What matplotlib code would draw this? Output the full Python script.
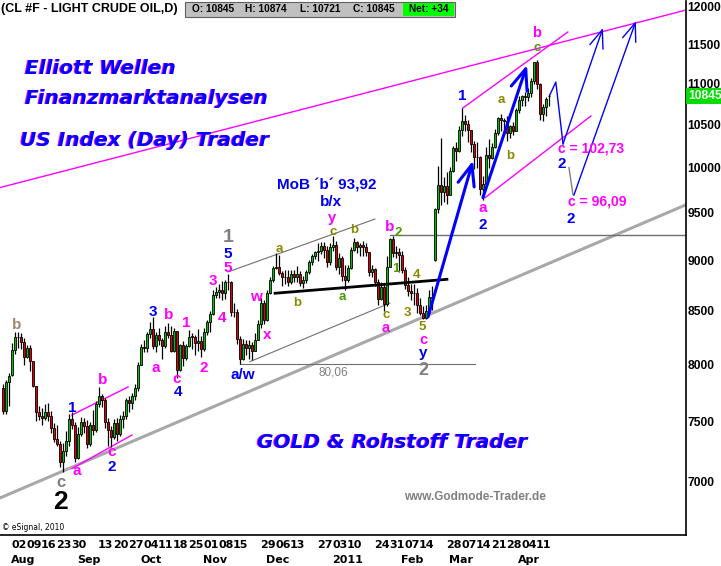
import numpy as np
import pandas as pd
import matplotlib
matplotlib.use('Agg')
import matplotlib.pyplot as plt
from matplotlib.patches import Rectangle
from matplotlib.transforms import blended_transform_factory, offset_copy

# ---- data (prices x100, as on the eSignal axis) ----
first_day = '2010-07-28'
last_day = '2011-04-15'
holidays = ['2010-09-06', '2010-11-25', '2010-12-24', '2011-01-17', '2011-02-21']

opens = [7790, 7590, 7836,
         7905, 8134, 8255, 8249, 8201, 8070, 8148, 8025, 7802, 7574,
         7539, 7524, 7577, 7542, 7443, 7346, 7310, 7163, 7252, 7336,
         7517, 7470, 7192, 7391, 7491, 7460, 7309, 7467, 7425, 7645,
         7719, 7680, 7494, 7420, 7366, 7486, 7390, 7520, 7540, 7680,
         7652, 7718, 7786, 7997, 8158, 8147, 8282, 8323, 8167, 8266,
         8221, 8167, 8301, 8269, 8125, 8308, 7949, 8177, 8056, 8169,
         8252, 8255, 8194, 8218, 8143, 8295, 8390, 8469, 8649, 8685,
         8706, 8672, 8781, 8781, 8488, 8486, 8234, 8044, 8185, 8151,
         8174, 8125, 8221, 8376, 8573, 8411, 8675, 8800, 8919, 8938,
         8869, 8828, 8837, 8779, 8861, 8828, 8862, 8770, 8802, 8881,
         8982, 9048, 9083, 9100, 9149, 9112, 8984, 9138, 9155, 8938,
         9030, 8838, 8803, 8925, 9111, 9186, 9140, 9154, 9138, 9086,
         8886, 8911, 8787, 8619, 8733, 8564, 8934, 9219, 9077, 9086,
         9054, 8903, 8748, 8694, 8671, 8673, 8558, 8481, 8432, 8499,
         8636, 9000, 9542, 9810, 9728, 9788, 9697, 9963, 10223, 10191,
         10442, 10544, 10502, 10438, 10270, 10116, 10119, 9760, 9820, 10142,
         10107, 10233, 10400, 10575, 10560, 10540, 10398, 10479, 10427, 10672,
         10794, 10847, 10834, 10883, 11030, 11279, 10992, 10625, 10711, 10845]
highs = [7820, 7860, 7920,
         8197, 8297, 8297, 8285, 8242, 8177, 8172, 8030, 7805, 7625,
         7609, 7649, 7657, 7590, 7482, 7470, 7336, 7317, 7419, 7557,
         7580, 7495, 7448, 7532, 7528, 7510, 7488, 7598, 7670, 7796,
         7735, 7695, 7530, 7460, 7520, 7530, 7550, 7590, 7700, 7720,
         7740, 7820, 8020, 8190, 8222, 8300, 8395, 8443, 8302, 8340,
         8240, 8350, 8380, 8355, 8336, 8310, 8190, 8210, 8190, 8320,
         8290, 8270, 8330, 8260, 8340, 8410, 8500, 8700, 8730, 8760,
         8790, 8800, 8863, 8790, 8580, 8520, 8260, 8234, 8220, 8220,
         8200, 8290, 8410, 8620, 8600, 8700, 8830, 8945, 9076, 9060,
         8890, 8900, 8900, 8900, 8900, 8940, 8890, 8840, 8900, 9000,
         9070, 9100, 9180, 9188, 9190, 9150, 9180, 9258, 9200, 9080,
         9050, 8950, 8950, 9140, 9230, 9200, 9180, 9200, 9180, 9090,
         8950, 8920, 8810, 8780, 8760, 9050, 9230, 9250, 9150, 9130,
         9100, 8930, 8830, 8760, 8760, 8720, 8620, 8550, 8560, 8700,
         8740, 9550, 10020, 10341, 9890, 9950, 10012, 10250, 10300, 10487,
         10695, 10620, 10560, 10440, 10310, 10290, 10130, 9900, 10240, 10325,
         10280, 10443, 10588, 10624, 10575, 10600, 10490, 10529, 10700, 10844,
         10865, 10900, 10950, 11075, 11279, 11300, 11005, 10754, 10830, 10874]
lows = [7560, 7560, 7633,
        7897, 8090, 8144, 8135, 7990, 8060, 7940, 7792, 7500, 7505,
        7465, 7510, 7497, 7403, 7327, 7290, 7120, 7076, 7207, 7288,
        7430, 7163, 7185, 7375, 7401, 7276, 7290, 7385, 7410, 7620,
        7620, 7440, 7290, 7280, 7350, 7330, 7370, 7440, 7520, 7580,
        7600, 7680, 7760, 7990, 8110, 8110, 8240, 8140, 8110, 8180,
        8050, 8150, 8240, 8110, 8110, 7880, 7935, 7980, 8040, 8160,
        8140, 8080, 8120, 8070, 8120, 8270, 8300, 8460, 8620, 8620,
        8600, 8610, 8705, 8451, 8442, 8190, 8006, 8040, 8080, 8050,
        8040, 8120, 8220, 8340, 8370, 8400, 8660, 8780, 8910, 8850,
        8740, 8760, 8740, 8760, 8780, 8780, 8740, 8720, 8770, 8860,
        8950, 9010, 8990, 9070, 9030, 8930, 8950, 9100, 8900, 8860,
        8790, 8700, 8780, 8910, 9100, 9080, 9050, 9050, 9050, 8840,
        8830, 8740, 8560, 8600, 8500, 8550, 8930, 9040, 9030, 8880,
        8870, 8710, 8640, 8600, 8560, 8480, 8460, 8420, 8420, 8470,
        8510, 8990, 9500, 9580, 9620, 9600, 9690, 9950, 10070, 10180,
        10370, 10430, 10300, 10180, 9980, 9990, 9690, 9640, 9800, 9990,
        10100, 10220, 10380, 10420, 10440, 10310, 10340, 10380, 10420, 10640,
        10720, 10720, 10780, 10830, 10990, 10930, 10560, 10538, 10600, 10721]
closes = [7586, 7836, 7895,
          8134, 8255, 8249, 8201, 8070, 8148, 8025, 7802, 7574, 7539,
          7524, 7577, 7542, 7443, 7346, 7310, 7163, 7252, 7336, 7517,
          7470, 7192, 7391, 7491, 7460, 7309, 7467, 7425, 7645, 7719,
          7680, 7494, 7420, 7366, 7486, 7390, 7520, 7540, 7680, 7652,
          7718, 7786, 7997, 8158, 8147, 8282, 8323, 8167, 8266, 8221,
          8167, 8301, 8269, 8125, 8308, 7949, 8177, 8056, 8169, 8252,
          8255, 8194, 8218, 8143, 8295, 8390, 8469, 8649, 8685, 8706,
          8672, 8781, 8781, 8488, 8486, 8234, 8044, 8185, 8151, 8174,
          8125, 8221, 8376, 8573, 8411, 8675, 8800, 8919, 8938, 8869,
          8828, 8837, 8779, 8861, 8828, 8862, 8770, 8802, 8881, 8982,
          9048, 9083, 9100, 9149, 9112, 8984, 9138, 9155, 8938, 9030,
          8838, 8803, 8925, 9111, 9186, 9140, 9154, 9138, 9086, 8886,
          8911, 8787, 8619, 8733, 8564, 8934, 9219, 9077, 9086, 9054,
          8903, 8748, 8694, 8671, 8673, 8558, 8481, 8432, 8499, 8636,
          8620, 9542, 9810, 9728, 9788, 9697, 9963, 10223, 10191, 10442,
          10544, 10502, 10438, 10270, 10116, 10119, 9760, 9820, 10142, 10107,
          10233, 10400, 10575, 10560, 10540, 10398, 10479, 10427, 10672, 10794,
          10847, 10834, 10883, 11030, 11279, 10992, 10625, 10711, 10811, 10845]

day_ticks = ['2010-08-02', '2010-08-09', '2010-08-16', '2010-08-23', '2010-08-30',
             '2010-09-13', '2010-09-20', '2010-09-27', '2010-10-04', '2010-10-11',
             '2010-10-18', '2010-10-25', '2010-11-01', '2010-11-08', '2010-11-15',
             '2010-11-29', '2010-12-06', '2010-12-13', '2010-12-27', '2011-01-03',
             '2011-01-10', '2011-01-24', '2011-01-31', '2011-02-07', '2011-02-14',
             '2011-02-28', '2011-03-07', '2011-03-14', '2011-03-21', '2011-03-28',
             '2011-04-04', '2011-04-11']
month_ticks = ['2010-08-02', '2010-09-01', '2010-10-01', '2010-11-01', '2010-12-01',
               '2011-01-03', '2011-02-04', '2011-03-01', '2011-04-01']
month_names = ['Aug', 'Sep', 'Oct', 'Nov', 'Dec', '2011', 'Feb', 'Mar', 'Apr']
price_ticks = [7000, 7500, 8000, 8500, 9000, 9500, 10000, 10500, 11000, 11500, 12000]

# trend lines: (bar index pair, price pair)
magenta_top_x, magenta_top_y = [-4, 224.7], [9776, 11959]
gray_support_x, gray_support_y = [-4, 224.7], [6873, 9587]
sep_upper_x, sep_upper_y = [20, 38.7], [7552, 7796]
sep_lower_x, sep_lower_y = [20, 40], [7106, 7382]
dec_upper_x, dec_upper_y = [72, 121], [8883, 9433]
dec_lower_x, dec_lower_y = [79.3, 126], [8023, 8575]
low_line_x, low_line_y = [76, 154.3], [8006, 8006]
b_line_x, b_line_y = [126, 224.7], [9264, 9264]
neck_x, neck_y = [87.7, 145], [8671, 8809]
mar_upper_x, mar_upper_y = [150.3, 185.3], [10700, 11664]
mar_lower_x, mar_lower_y = [157.7, 193], [9664, 10603]
proj1_x, proj1_y = [179.3, 181.3, 183.7], [10860, 11020, 10273]
proj1_arrow = [(183.7, 10273), (197, 11717)]
proj2_gray_x, proj2_gray_y = [185.7, 187], [10000, 9700]
proj2_arrow = [(187.3, 9690), (208, 11809)]
arrow_a = [(138.7, 8441), (153.7, 10080)]
arrow_b = [(157, 9665), (171.7, 11236)]

BLUE, MAG, OLIVE, GREEN, GRAY = '#0000ee', '#ff00ff', '#8a8a00', '#4a9a00', '#808080'
wave_labels = [
    ('b', 1.7, 8364, '#a08870', 11), ('1', 20, 7612, BLUE, 11), ('b', 30.3, 7858, MAG, 11),
    ('a', 21.7, 7087, MAG, 11), ('c', 33.3, 7245, MAG, 11), ('2', 33.3, 7120, BLUE, 11),
    ('c', 16.3, 6991, GRAY, 12), ('2', 16, 6842, 'black', 19), ('3', 47, 8489, BLUE, 11),
    ('b', 52.3, 8460, MAG, 11), ('a', 48, 7966, MAG, 11), ('c', 55, 7870, MAG, 11),
    ('4', 55.3, 7750, BLUE, 11), ('1', 58, 8383, MAG, 11), ('2', 64, 7966, MAG, 11),
    ('4', 70, 8431, MAG, 11), ('1', 72, 9233, GRAY, 14), ('5', 72, 9066, BLUE, 11),
    ('5', 72, 8923, MAG, 11), ('3', 67, 8793, MAG, 11), ('w', 81.3, 8634, MAG, 11),
    ('x', 85, 8269, MAG, 11), ('a/w', 77, 7903, BLUE, 11), ('a', 89, 9118, OLIVE, 9.5),
    ('b/x', 106.3, 9615, BLUE, 11), ('y', 106.7, 9445, MAG, 10.5), ('c', 107, 9290, OLIVE, 9.5),
    ('b', 114, 9317, OLIVE, 9.5), ('b', 126, 9348, MAG, 11), ('2', 128.7, 9286, GREEN, 9.5),
    ('b', 95, 8575, OLIVE, 9.5), ('a', 110, 8634, GREEN, 9.5), ('1', 128, 8914, GREEN, 9.5),
    ('4', 135, 8853, OLIVE, 9.5), ('c', 124.7, 8462, OLIVE, 9.5), ('a', 124.7, 8335, MAG, 10.5),
    ('3', 131.7, 8479, OLIVE, 9.5), ('5', 136.7, 8345, OLIVE, 9.5), ('c', 137, 8222, MAG, 10.5),
    ('y', 137, 8100, BLUE, 11), ('2', 137.3, 7945, GRAY, 13), ('1', 150, 10847, BLUE, 11),
    ('a', 163, 10797, OLIVE, 9.5), ('b', 166, 10133, OLIVE, 9.5), ('a', 157, 9552, MAG, 11),
    ('2', 157, 9369, BLUE, 11), ('2', 183.3, 10041, BLUE, 11), ('2', 186.3, 9433, BLUE, 11),
    ('b', 175, 11650, MAG, 10.5), ('c', 175, 11455, GREEN, 9.5),
]
note_labels = [
    ('MoB \u00b4b\u00b4 93,92', 105, 9800, BLUE, 11, 'bold'),
    ('c = 102,73', 193, 10225, MAG, 10, 'bold'),
    ('c = 96,09', 195, 9618, MAG, 10, 'bold'),
    ('80,06', 107, 7921, GRAY, 8.5, 'normal'),
]

# ---- figure ----
W, H = 721, 566
fig = plt.figure(figsize=(W / 100, H / 100), dpi=100)
fig.patch.set_facecolor('white')
ax = fig.add_axes([0, 31 / H, 686 / W, 534 / H])

days = pd.bdate_range(first_day, last_day)
days = days[~days.isin(pd.to_datetime(holidays))]
x = np.arange(len(days)) - 3
o, hi, lo, c = (np.array(v, dtype=float) for v in (opens, highs, lows, closes))

ax.vlines(x, lo, hi, color='black', lw=0.9, zorder=3)
up = c >= o
body_lo = np.minimum(o, c)
body_h = np.maximum(np.abs(c - o), 4)
ax.bar(x[up], body_h[up], bottom=body_lo[up], width=0.85, color='#00c000',
       edgecolor='black', linewidth=0.6, zorder=4)
ax.bar(x[~up], body_h[~up], bottom=body_lo[~up], width=0.85, color='#e00000',
       edgecolor='black', linewidth=0.6, zorder=4)

# trend lines
ax.plot(magenta_top_x, magenta_top_y, color=MAG, lw=1, zorder=2)
ax.plot(gray_support_x, gray_support_y, color='#a8a8a8', lw=2.2, zorder=2)
ax.plot(sep_upper_x, sep_upper_y, color=MAG, lw=1, zorder=2)
ax.plot(sep_lower_x, sep_lower_y, color=MAG, lw=1, zorder=2)
ax.plot(dec_upper_x, dec_upper_y, color='#707070', lw=0.8, zorder=2)
ax.plot(dec_lower_x, dec_lower_y, color='#707070', lw=0.8, zorder=2)
ax.plot(low_line_x, low_line_y, color='#707070', lw=0.8, zorder=2)
ax.plot(b_line_x, b_line_y, color='#707070', lw=1, zorder=2)
ax.plot(neck_x, neck_y, color='black', lw=2, zorder=5)
ax.plot(mar_upper_x, mar_upper_y, color=MAG, lw=1, zorder=2)
ax.plot(mar_lower_x, mar_lower_y, color=MAG, lw=1, zorder=2)
ax.plot(proj1_x, proj1_y, color='blue', lw=1, zorder=5)
ax.plot(proj2_gray_x, proj2_gray_y, color=GRAY, lw=1, zorder=5)


def arrow(pts, lw, hl, hw):
    ax.annotate('', xy=pts[1], xytext=pts[0], zorder=6,
                arrowprops=dict(arrowstyle=f'->,head_length={hl},head_width={hw}',
                                color='blue', lw=lw, shrinkA=0, shrinkB=0))


arrow(arrow_a, 2.2, 1.5, 0.6)
arrow(arrow_b, 2.2, 1.5, 0.6)
arrow(proj1_arrow, 1, 1.3, 0.5)
arrow(proj2_arrow, 1, 1.3, 0.5)

for s, xi, p, col, fs in wave_labels:
    ax.text(xi, p, s, color=col, fontsize=fs, fontweight='bold', ha='center', va='center',
            family='Liberation Sans', zorder=7)
for s, xi, p, col, fs, wt in note_labels:
    ax.text(xi, p, s, color=col, fontsize=fs, fontweight=wt, ha='center', va='center',
            family='Liberation Sans', zorder=7)

# axes
ax.set_yscale('log')
ax.set_ylim(6590, 12082)
ax.set_xlim(-4, 224.7)
ax.yaxis.tick_right()
ax.yaxis.set_minor_locator(matplotlib.ticker.NullLocator())
ax.set_yticks(price_ticks)
ax.set_yticklabels([str(t) for t in price_ticks], fontsize=8.7, fontweight='bold',
                   family='Liberation Sans')
ax.tick_params(axis='y', length=0, pad=1)
ax.set_xticks([])
for side in ('top', 'left'):
    ax.spines[side].set_visible(False)
ax.spines['right'].set_linewidth(1.2)
ax.spines['bottom'].set_linewidth(1.2)

# current price box
bt = blended_transform_factory(ax.transAxes, ax.transData)
ax.text(1.003, closes[-1], str(closes[-1]), transform=bt, color='white', fontsize=8.7,
        fontweight='bold', family='Liberation Sans', va='center', ha='left',
        bbox=dict(fc='#00dd00', ec='none', pad=1.2), clip_on=False, zorder=8)

# date labels
xt = blended_transform_factory(ax.transData, ax.transAxes)
pos = {d.strftime('%Y-%m-%d'): i for d, i in zip(days, x)}
for d in day_ticks:
    ax.text(pos[d] - 0.3, -10 / 534, d[-2:], transform=xt, fontsize=8, fontweight='bold',
            family='DejaVu Sans', ha='left', va='center', clip_on=False)
for d, m in zip(month_ticks, month_names):
    ax.text(pos[d] - 0.3, -25 / 534, m, transform=xt, fontsize=8, fontweight='bold',
            family='DejaVu Sans', ha='left', va='center', clip_on=False)


def fx(px):
    return px / W


def fy(py):
    return 1 - py / H


# header
fig.text(fx(1), fy(9), '(CL #F - LIGHT CRUDE OIL,D)', fontsize=9, fontweight='bold',
         family='Liberation Sans', va='center')
fig.patches.append(Rectangle((fx(185), fy(17)), fx(270), 15 / H, transform=fig.transFigure,
                             fc='#c0c0c0', ec='#606060', lw=0.8))
fig.patches.append(Rectangle((fx(403), fy(16)), fx(51), 13 / H, transform=fig.transFigure,
                             fc='#00ff00', ec='none'))
for px, s in [(192, 'O: 10845'), (245, 'H: 10874'), (300, 'L: 10721'), (353, 'C: 10845'),
              (409, 'Net: +34')]:
    fig.text(fx(px), fy(9.5), s, fontsize=7.3, fontweight='bold', family='Liberation Sans',
             va='center')

# promo texts with magenta shadow
for s, px, py in [('Elliott Wellen', 25, 68), ('Finanzmarktanalysen', 25, 98),
                  ('US Index (Day) Trader', 20, 140), ('GOLD & Rohstoff Trader', 257, 442)]:
    shadow = offset_copy(fig.transFigure, fig=fig, x=-1, y=-1, units='dots')
    kw = dict(fontsize=14.5, fontweight='bold', style='italic', family='DejaVu Sans',
              va='center', ha='left')
    fig.text(fx(px), fy(py), s, color=MAG, transform=shadow, **kw)
    fig.text(fx(px), fy(py), s, color='blue', **kw)

fig.text(fx(475), fy(497), 'www.Godmode-Trader.de', fontsize=8.5, fontweight='bold',
         color='#808080', family='Liberation Sans', ha='center', va='center')
fig.text(fx(2), fy(527), '\u00a9 eSignal, 2010', fontsize=5.5, family='DejaVu Sans',
         va='center')

fig.savefig('out.png', dpi=100)
